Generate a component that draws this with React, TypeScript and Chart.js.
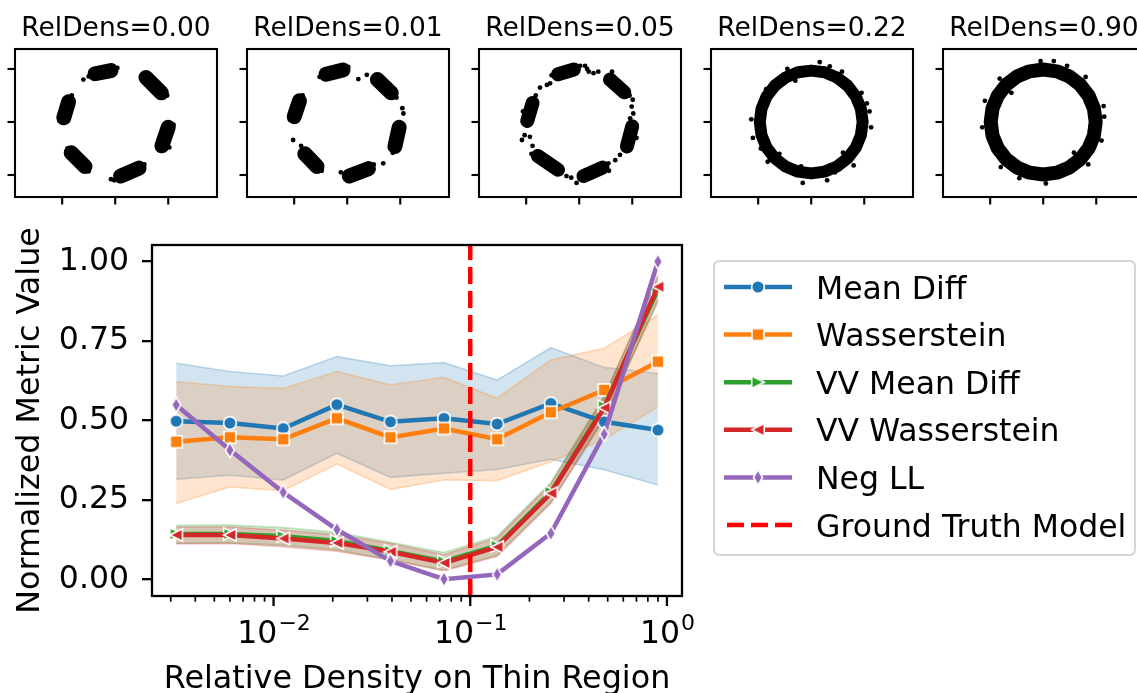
import React, { useEffect, useRef } from 'react';
import { Chart, registerables } from 'chart.js';

Chart.register(...registerables);

const FONT = "'DejaVu Sans', 'Liberation Sans', sans-serif";
const MAIN_FONT_SIZE = 31.5;

// ---------------- main chart data ----------------
const relDensity = [0.0032, 0.006, 0.0112, 0.021, 0.0393, 0.0735, 0.137, 0.257, 0.48, 0.9];

const meanDiff = [0.498, 0.492, 0.475, 0.55, 0.496, 0.507, 0.489, 0.554, 0.496, 0.47];
const meanDiffHi = [0.68, 0.654, 0.64, 0.701, 0.672, 0.682, 0.627, 0.729, 0.667, 0.648];
const meanDiffLo = [0.315, 0.328, 0.313, 0.397, 0.321, 0.334, 0.346, 0.378, 0.345, 0.297];

const wasserstein = [0.433, 0.447, 0.441, 0.507, 0.447, 0.475, 0.441, 0.526, 0.596, 0.685];
const wassersteinHi = [0.622, 0.607, 0.601, 0.654, 0.612, 0.636, 0.57, 0.69, 0.727, 0.832];
const wassersteinLo = [0.239, 0.291, 0.279, 0.363, 0.283, 0.313, 0.311, 0.37, 0.44, 0.543];

const vvMeanDiff = [0.143, 0.143, 0.136, 0.121, 0.09, 0.057, 0.106, 0.275, 0.545, 0.912];
const vvMeanDiffHi = [0.17, 0.171, 0.163, 0.148, 0.117, 0.085, 0.136, 0.305, 0.578, 0.948];
const vvMeanDiffLo = [0.114, 0.115, 0.108, 0.093, 0.062, 0.03, 0.076, 0.243, 0.51, 0.872];

const vvWasserstein = [0.14, 0.14, 0.129, 0.115, 0.087, 0.052, 0.102, 0.271, 0.54, 0.921];
const vvWassersteinHi = [0.165, 0.165, 0.155, 0.141, 0.113, 0.078, 0.13, 0.3, 0.573, 0.958];
const vvWassersteinLo = [0.112, 0.113, 0.103, 0.089, 0.061, 0.027, 0.073, 0.24, 0.505, 0.88];

const negLL = [0.549, 0.407, 0.274, 0.157, 0.058, 0.001, 0.016, 0.145, 0.457, 1.0];

const groundTruthDensity = 0.1;

const yTickValues = [0, 0.25, 0.5, 0.75, 1.0];
const xMajorTicks = [0.01, 0.1, 1];
const xMajorExponents = ['\u22122', '\u22121', '0'];
const X_MIN = 0.00241;
const X_MAX = 1.193;
const Y_MIN = -0.052;
const Y_MAX = 1.052;

const legendLabels = ['Mean Diff', 'Wasserstein', 'VV Mean Diff', 'VV Wasserstein', 'Neg LL', 'Ground Truth Model'];
const xAxisTitle = 'Relative Density on Thin Region';
const yAxisTitle = 'Normalized Metric Value';

// ---------------- small panels data ----------------
const panelTitles = ['RelDens=0.00', 'RelDens=0.01', 'RelDens=0.05', 'RelDens=0.22', 'RelDens=0.90'];
const panelTicks = [-1, 0, 1];

const panel0Clusters = [
  [[-0.38, 0.91], [-0.08, 0.97]],
  [[0.58, 0.84], [0.87, 0.55]],
  [[1.0, -0.1], [0.88, -0.45]],
  [[0.45, -0.87], [0.1, -1.02]],
  [[-0.83, -0.58], [-0.57, -0.84]],
  [[-0.88, 0.38], [-0.97, 0.08]],
];
const panel0Strays = [
  [-0.6, 0.8], [-0.08, -1.08], [1.02, -0.48], [-0.5, 0.86], [0.04, 1.02], [0.98, 0.5],
  [0.66, 0.88], [1.1, -0.05], [0.55, -0.8], [-0.02, -1.1], [-0.9, -0.5], [-0.5, -0.93],
  [-0.82, 0.5], [-1.05, 0.02],
];

const panel1Clusters = [
  [[-0.4, 0.9], [-0.08, 0.98]],
  [[0.57, 0.8], [0.83, 0.55]],
  [[0.98, -0.1], [0.9, -0.46]],
  [[0.4, -0.88], [0.04, -1.02]],
  [[-0.8, -0.6], [-0.57, -0.84]],
  [[-0.9, 0.4], [-1.0, 0.1]],
];
const panel1Strays = [
  [0.21, 0.81], [0.37, 0.89], [1.06, 0.16], [1.04, 0.26], [-1.02, -0.34],
  [-0.87, -0.45], [0.68, -0.78], [-0.12, -0.95], [-0.52, 0.85], [0.02, 1.04],
  [0.93, 0.46], [0.86, -0.58], [0.5, -0.8], [-0.48, -0.92], [-1.08, 0.04], [-0.84, 0.5],
];

const panel2Clusters = [
  [[-0.4, 0.9], [-0.1, 0.99]],
  [[0.58, 0.8], [0.85, 0.56]],
  [[1.0, -0.08], [0.9, -0.46]],
  [[0.44, -0.86], [0.08, -1.02]],
  [[-0.78, -0.64], [-0.4, -0.9]],
  [[-0.88, 0.36], [-0.98, 0.02]],
];
const panel2Strays = [
  [0.11, 1.06], [0.15, 1.0], [0.18, 0.95], [0.27, 0.92], [0.36, 0.95], [0.62, 0.95],
  [1.01, 0.42], [0.99, 0.29], [1.02, 0.16], [0.96, 0.07], [0.77, -0.62], [0.68, -0.72],
  [0.55, -0.78], [-0.05, -1.15], [-0.74, 0.65], [-0.61, 0.7], [-0.55, 0.73], [-1.08, -0.34],
  [-1.03, -0.25], [-0.93, -0.28], [-0.88, -0.45], [-0.24, -1.02], [-0.15, -1.05],
  [-0.52, 0.88], [0.02, 1.06], [0.95, 0.5], [1.08, -0.3], [0.56, -0.92], [-0.9, -0.6],
  [-1.06, 0.2], [-0.82, 0.5],
];

const panel3Ring = [
  [0.97, 0], [0.937, 0.251], [0.84, 0.485], [0.686, 0.686], [0.485, 0.84], [0.251, 0.937],
  [0, 0.97], [-0.251, 0.937], [-0.485, 0.84], [-0.686, 0.686], [-0.84, 0.485], [-0.937, 0.251],
  [-0.97, 0], [-0.937, -0.251], [-0.84, -0.485], [-0.686, -0.686], [-0.485, -0.84],
  [-0.251, -0.937], [0, -0.97], [0.251, -0.937], [0.485, -0.84], [0.686, -0.686],
  [0.84, -0.485], [0.937, -0.251], [0.97, 0],
];
const panel3Strays = [
  [0.58, 0.95], [-0.85, 0.62], [-0.19, -0.84], [-0.16, -1.15], [0.16, 1.13], [1.13, -0.1],
  [-1.13, 0.05], [0.3, -1.1], [0.75, 0.55], [-0.6, -0.6], [0.95, 0.55], [-0.95, -0.5],
  [0.45, -0.95], [-0.45, 1.0], [1.05, 0.35], [-0.3, 0.78], [0.8, -0.82], [-0.82, -0.75],
  [0.35, 1.05], [-1.1, -0.3], [1.1, 0.2], [0.6, -0.58],
];

const panel4Ring = [
  [0.99, 0], [0.956, 0.256], [0.857, 0.495], [0.7, 0.7], [0.495, 0.857], [0.256, 0.956],
  [0, 0.99], [-0.256, 0.956], [-0.495, 0.857], [-0.7, 0.7], [-0.857, 0.495], [-0.956, 0.256],
  [-0.99, 0], [-0.956, -0.256], [-0.857, -0.495], [-0.7, -0.7], [-0.495, -0.857],
  [-0.256, -0.956], [0, -0.99], [0.256, -0.956], [0.495, -0.857], [0.7, -0.7],
  [0.857, -0.495], [0.956, -0.256], [0.99, 0],
];
const panel4Strays = [
  [0.2, 1.15], [-0.05, 1.15], [1.15, 0.1], [-1.15, -0.1], [0.05, -1.16], [0.8, 0.85],
  [-0.82, 0.82], [-0.8, -0.85], [0.85, -0.8], [0.58, -0.58], [-0.6, 0.55], [1.1, -0.35],
  [-1.1, 0.4], [0.45, 1.06], [-0.45, -1.06], [1.14, 0.3],
];

// ---------------- helpers ----------------
function makeMarker(kind: string, color: string): HTMLCanvasElement {
  const S = 24;
  const c = document.createElement('canvas');
  c.width = S;
  c.height = S;
  const g = c.getContext('2d') as CanvasRenderingContext2D;
  g.translate(S / 2, S / 2);
  g.beginPath();
  if (kind === 'circle') {
    g.arc(0, 0, 6.4, 0, Math.PI * 2);
  } else if (kind === 'square') {
    g.rect(-6, -6, 12, 12);
  } else if (kind === 'right') {
    g.moveTo(6.3, 0);
    g.lineTo(-6.3, -6.3);
    g.lineTo(-6.3, 6.3);
    g.closePath();
  } else if (kind === 'left') {
    g.moveTo(-6.3, 0);
    g.lineTo(6.3, -6.3);
    g.lineTo(6.3, 6.3);
    g.closePath();
  } else {
    g.moveTo(0, -7.6);
    g.lineTo(4.6, 0);
    g.lineTo(0, 7.6);
    g.lineTo(-4.6, 0);
    g.closePath();
  }
  g.fillStyle = color;
  g.fill();
  g.lineWidth = 1.6;
  g.strokeStyle = '#ffffff';
  g.lineJoin = 'miter';
  g.stroke();
  return c;
}

const toPts = (ys: number[]) => relDensity.map((x, i) => ({ x, y: ys[i] }));
const toXY = (arr: number[][]) => arr.map((p) => ({ x: p[0], y: p[1] }));

export default function App() {
  const mainRef = useRef<HTMLCanvasElement | null>(null);
  const panelRefs = useRef<(HTMLCanvasElement | null)[]>([]);

  useEffect(() => {
    const charts: Chart[] = [];

    const colors = {
      blue: '#1f77b4',
      orange: '#ff7f0e',
      green: '#2ca02c',
      red: '#d62728',
      purple: '#9467bd',
    };
    const markers = [
      makeMarker('circle', colors.blue),
      makeMarker('square', colors.orange),
      makeMarker('right', colors.green),
      makeMarker('left', colors.red),
      makeMarker('diamond', colors.purple),
    ];
    const legendColors = [colors.blue, colors.orange, colors.green, colors.red, colors.purple];

    const band = (hi: number[], lo: number[], rgb: string, order: number) => [
      {
        data: toPts(hi),
        borderColor: `rgba(${rgb},0.26)`,
        borderWidth: 1.6,
        backgroundColor: `rgba(${rgb},0.2)`,
        fill: '+1',
        pointRadius: 0,
        order,
      },
      {
        data: toPts(lo),
        borderColor: `rgba(${rgb},0.26)`,
        borderWidth: 1.6,
        backgroundColor: 'rgba(0,0,0,0)',
        fill: false,
        pointRadius: 0,
        order,
      },
    ];

    const series = (ys: number[], color: string, marker: HTMLCanvasElement, order: number) => ({
      data: toPts(ys),
      borderColor: color,
      backgroundColor: color,
      borderWidth: 4.5,
      pointStyle: marker,
      pointRadius: 7,
      fill: false,
      order,
    });

    const mainDecor = {
      id: 'mainDecor',
      afterDatasetsDraw(chart: any) {
        const { ctx, chartArea: a, scales } = chart;
        const xs = scales.x;
        ctx.save();
        ctx.strokeStyle = '#000';
        ctx.lineWidth = 1.7;
        for (let d = -3; d <= 0; d++) {
          for (let k = 2; k <= 9; k++) {
            const v = k * Math.pow(10, d);
            if (v < X_MIN || v > X_MAX) continue;
            const px = xs.getPixelForValue(v);
            ctx.beginPath();
            ctx.moveTo(px, a.bottom);
            ctx.lineTo(px, a.bottom + 5.7);
            ctx.stroke();
          }
        }
        ctx.lineWidth = 2.3;
        ctx.fillStyle = '#000';
        xMajorTicks.forEach((v, i) => {
          const px = xs.getPixelForValue(v);
          ctx.beginPath();
          ctx.moveTo(px, a.bottom);
          ctx.lineTo(px, a.bottom + 10);
          ctx.stroke();
          ctx.font = `${MAIN_FONT_SIZE}px ${FONT}`;
          const wBase = ctx.measureText('10').width;
          ctx.font = `22px ${FONT}`;
          const wExp = ctx.measureText(xMajorExponents[i]).width;
          const start = px - (wBase + wExp) / 2;
          ctx.textAlign = 'left';
          ctx.textBaseline = 'alphabetic';
          ctx.font = `${MAIN_FONT_SIZE}px ${FONT}`;
          ctx.fillText('10', start, a.bottom + 47);
          ctx.font = `22px ${FONT}`;
          ctx.fillText(xMajorExponents[i], start + wBase + 1, a.bottom + 34);
        });
        ctx.lineWidth = 2.3;
        ctx.strokeStyle = '#000';
        ctx.strokeRect(a.left, a.top, a.right - a.left, a.bottom - a.top);
        ctx.font = `${MAIN_FONT_SIZE + 0.3}px ${FONT}`;
        ctx.textAlign = 'center';
        ctx.textBaseline = 'alphabetic';
        ctx.fillText(xAxisTitle, (a.left + a.right) / 2, a.bottom + 92);
        ctx.save();
        ctx.translate(39, (a.top + a.bottom) / 2);
        ctx.rotate(-Math.PI / 2);
        ctx.fillText(yAxisTitle, 0, 0);
        ctx.restore();
        ctx.restore();
      },
      afterDraw(chart: any) {
        const { ctx } = chart;
        ctx.save();
        const L = { x: 714, y: 61, w: 421, h: 294, r: 6 };
        ctx.beginPath();
        ctx.moveTo(L.x + L.r, L.y);
        ctx.lineTo(L.x + L.w - L.r, L.y);
        ctx.quadraticCurveTo(L.x + L.w, L.y, L.x + L.w, L.y + L.r);
        ctx.lineTo(L.x + L.w, L.y + L.h - L.r);
        ctx.quadraticCurveTo(L.x + L.w, L.y + L.h, L.x + L.w - L.r, L.y + L.h);
        ctx.lineTo(L.x + L.r, L.y + L.h);
        ctx.quadraticCurveTo(L.x, L.y + L.h, L.x, L.y + L.h - L.r);
        ctx.lineTo(L.x, L.y + L.r);
        ctx.quadraticCurveTo(L.x, L.y, L.x + L.r, L.y);
        ctx.closePath();
        ctx.fillStyle = 'rgba(255,255,255,0.8)';
        ctx.fill();
        ctx.strokeStyle = '#d6d6d6';
        ctx.lineWidth = 2;
        ctx.stroke();

        legendLabels.forEach((label, i) => {
          const ry = 87 + i * 47.6;
          if (i < 5) {
            ctx.strokeStyle = legendColors[i];
            ctx.lineWidth = 4.5;
            ctx.setLineDash([]);
            ctx.beginPath();
            ctx.moveTo(724, ry);
            ctx.lineTo(792, ry);
            ctx.stroke();
            const mk = markers[i];
            ctx.drawImage(mk, 758 - mk.width / 2, ry - mk.height / 2);
          } else {
            ctx.strokeStyle = '#ff0000';
            ctx.lineWidth = 4.5;
            ctx.setLineDash([17, 7]);
            ctx.beginPath();
            ctx.moveTo(727, ry);
            ctx.lineTo(792, ry);
            ctx.stroke();
            ctx.setLineDash([]);
          }
          ctx.fillStyle = '#000';
          ctx.font = `${MAIN_FONT_SIZE}px ${FONT}`;
          ctx.textAlign = 'left';
          ctx.textBaseline = 'alphabetic';
          ctx.fillText(label, 816, ry + 11.5);
        });
        ctx.restore();
      },
    };

    if (mainRef.current) {
      const datasets: any[] = [
        {
          data: [
            { x: groundTruthDensity, y: Y_MIN },
            { x: groundTruthDensity, y: Y_MAX },
          ],
          borderColor: '#ff0000',
          borderWidth: 4.5,
          borderDash: [17, 7],
          pointRadius: 0,
          fill: false,
          order: 0,
        },
        series(negLL, colors.purple, markers[4], 1),
        series(vvWasserstein, colors.red, markers[3], 2),
        series(vvMeanDiff, colors.green, markers[2], 3),
        series(wasserstein, colors.orange, markers[1], 4),
        series(meanDiff, colors.blue, markers[0], 5),
        ...band(vvWassersteinHi, vvWassersteinLo, '214,39,40', 16),
        ...band(vvMeanDiffHi, vvMeanDiffLo, '44,160,44', 17),
        ...band(wassersteinHi, wassersteinLo, '255,127,14', 18),
        ...band(meanDiffHi, meanDiffLo, '31,119,180', 19),
      ];
      charts.push(
        new Chart(mainRef.current, {
          type: 'line',
          data: { datasets },
          options: {
            animation: false,
            responsive: false,
            devicePixelRatio: 1,
            events: [],
            layout: { padding: { left: 0, top: 45, right: 455, bottom: 97 } },
            elements: { line: { tension: 0 } },
            plugins: {
              legend: { display: false },
              tooltip: { enabled: false },
            },
            scales: {
              x: { type: 'logarithmic', min: X_MIN, max: X_MAX, display: false },
              y: {
                type: 'linear',
                min: Y_MIN,
                max: Y_MAX,
                afterFit: (s: any) => {
                  s.width = 152;
                },
                afterBuildTicks: (s: any) => {
                  s.ticks = yTickValues.map((v) => ({ value: v }));
                },
                ticks: {
                  callback: (v: any) => Number(v).toFixed(2),
                  font: { family: FONT, size: MAIN_FONT_SIZE },
                  color: '#000',
                  padding: 13,
                  autoSkip: false,
                },
                grid: {
                  drawOnChartArea: false,
                  drawTicks: true,
                  tickLength: 10,
                  tickWidth: 2.3,
                  tickColor: '#000',
                  color: '#000',
                  lineWidth: 2.3,
                },
                border: { display: false },
              },
            },
          } as any,
          plugins: [mainDecor],
        })
      );
    }

    const panelDecor = {
      id: 'panelDecor',
      afterDraw(chart: any, _args: any, opts: any) {
        const { ctx, chartArea: a, scales } = chart;
        ctx.save();
        ctx.strokeStyle = '#000';
        ctx.lineWidth = 2.1;
        ctx.strokeRect(a.left, a.top, a.right - a.left, a.bottom - a.top);
        panelTicks.forEach((t) => {
          const px = scales.x.getPixelForValue(t);
          ctx.beginPath();
          ctx.moveTo(px, a.bottom);
          ctx.lineTo(px, a.bottom + 7.5);
          ctx.stroke();
          const py = scales.y.getPixelForValue(t);
          ctx.beginPath();
          ctx.moveTo(a.left, py);
          ctx.lineTo(a.left - 7.5, py);
          ctx.stroke();
        });
        ctx.fillStyle = '#000';
        ctx.font = `26.5px ${FONT}`;
        ctx.textAlign = 'center';
        ctx.textBaseline = 'alphabetic';
        ctx.fillText(opts.title, (a.left + a.right) / 2, 36);
        ctx.restore();
      },
    };

    const panelShapes = [
      { lines: panel0Clusters, width: 15, strays: panel0Strays },
      { lines: panel1Clusters, width: 15, strays: panel1Strays },
      { lines: panel2Clusters, width: 14, strays: panel2Strays },
      { lines: [panel3Ring], width: 12, strays: panel3Strays },
      { lines: [panel4Ring], width: 14, strays: panel4Strays },
    ];

    panelShapes.forEach((shape, i) => {
      const cv = panelRefs.current[i];
      if (!cv) return;
      const datasets: any[] = shape.lines.map((seg) => ({
        data: toXY(seg),
        showLine: true,
        borderColor: '#000',
        borderWidth: shape.width,
        borderCapStyle: 'round',
        borderJoinStyle: 'round',
        pointRadius: 0,
        fill: false,
      }));
      datasets.push({
        data: toXY(shape.strays),
        showLine: false,
        pointRadius: 2.4,
        pointBackgroundColor: '#000',
        pointBorderWidth: 0,
        borderColor: '#000',
      });
      charts.push(
        new Chart(cv, {
          type: 'line',
          data: { datasets },
          options: {
            animation: false,
            responsive: false,
            devicePixelRatio: 1,
            events: [],
            layout: { padding: { left: 15, right: 15, top: 49, bottom: 13 } },
            elements: { line: { tension: 0 } },
            plugins: {
              legend: { display: false },
              tooltip: { enabled: false },
              panelDecor: { title: panelTitles[i] },
            },
            scales: {
              x: { type: 'linear', min: -1.89, max: 1.92, display: false },
              y: { type: 'linear', min: -1.415, max: 1.377, display: false },
            },
          } as any,
          plugins: [panelDecor],
        })
      );
    });

    return () => {
      charts.forEach((c) => c.destroy());
    };
  }, []);

  return (
    <div
      style={{
        position: 'absolute',
        left: 0,
        top: 0,
        width: 1137,
        height: 693,
        overflow: 'hidden',
        background: '#ffffff',
      }}
    >
      {panelTitles.map((t, i) => (
        <canvas
          key={t}
          ref={(el) => {
            panelRefs.current[i] = el;
          }}
          width={232}
          height={210}
          style={{ position: 'absolute', left: 232 * i, top: 0, width: 232, height: 210 }}
        />
      ))}
      <canvas
        ref={mainRef}
        width={1137}
        height={493}
        style={{ position: 'absolute', left: 0, top: 200, width: 1137, height: 493 }}
      />
    </div>
  );
}
